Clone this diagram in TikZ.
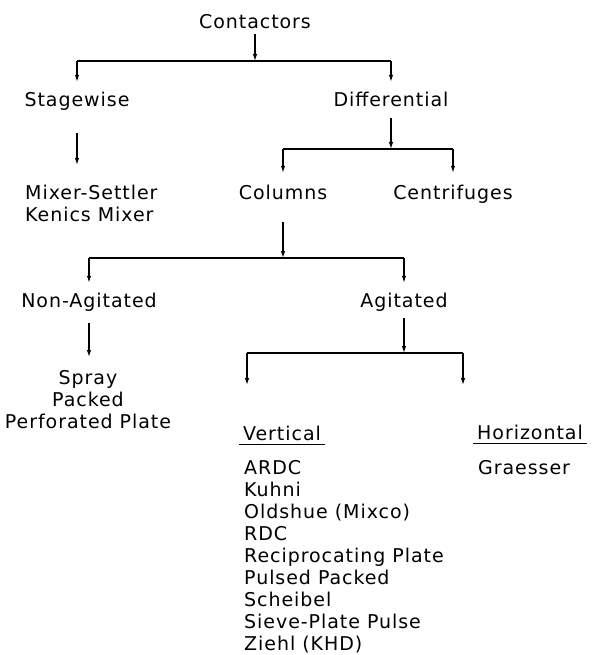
\documentclass[tikz,border=0pt]{standalone}
\usepackage{fontspec}
\usetikzlibrary{arrows.meta}
\newfontfamily\chartfont{DejaVu Sans}[LetterSpace=5.0]
\newcommand{\labelfont}{\chartfont\fontsize{19}{22}\selectfont}
\tikzset{
    every node/.append style={font=\labelfont},
    lbl/.style={anchor=base,inner xsep=0pt,inner ysep=1pt,text height=14pt,text depth=4pt},
    head/.style={lbl,inner xsep=4pt,inner ysep=0pt},
    lst/.style={inner sep=0pt},
    arr/.style={-{Latex[length=7pt,width=4.5pt]},line width=1.2pt},
    bar/.style={line width=1.2pt},
    rule/.style={line width=1pt}
}

\begin{document}
\begin{tikzpicture}[x=1pt,y=1pt]
    \useasboundingbox (0,0) rectangle (596,-655);

    % top levels: contactors and the two main groups
    \node[lbl] (cont)  at (255,-29)  {Contactors};
    \node[lbl] (stage) at (77,-107)  {Stagewise};
    \node[lbl] (diff)  at (391,-107) {Differential};
    \node[lst,anchor=north west,align=left] (mixer) at (25,-185) {Mixer-Settler\\Kenics Mixer};
    \node[lbl] (cols)  at (283,-199) {Columns};
    \node[lbl] (centr) at (453,-199) {Centrifuges};

    % columns split
    \node[lbl] (nonag) at (89,-307)  {Non-Agitated};
    \node[lbl] (agit)  at (404,-307) {Agitated};
    \node[lst,anchor=north,align=center] (nonlist) at (88,-370) {Spray\\Packed\\Perforated Plate};

    % agitated columns
    \node[head] (vert)  at (282,-440) {Vertical};
    \node[head] (horiz) at (530,-439) {Horizontal};
    \node[lst,anchor=north west,align=left] (vlist) at (244,-460)
        {ARDC\\Kuhni\\Oldshue (Mixco)\\RDC\\Reciprocating Plate\\Pulsed Packed\\Scheibel\\Sieve-Plate Pulse\\Ziehl (KHD)};
    \node[lbl,anchor=base west] (graes) at (478,-474) {Graesser};

    % branch bars
    \coordinate (b1) at (255,-61);
    \coordinate (b2) at (391,-149);
    \coordinate (b3) at (283,-258);
    \coordinate (b4) at (404,-353);
    \coordinate (vdrop) at (247,-385);
    \coordinate (hdrop) at (463,-385);

    \draw[arr] (cont.south) -- (cont.south |- b1);
    \draw[bar] (b1 -| stage) -- (b1 -| diff);
    \draw[arr,shorten >=10pt] (b1 -| stage) -- (stage.north);
    \draw[arr,shorten >=10pt] (b1 -| diff) -- (diff.north);
    \draw[arr,shorten <=21pt,shorten >=20pt] (stage.south) -- (stage.south |- mixer.north);

    \draw[arr,shorten <=6pt] (diff.south) -- (diff.south |- b2);
    \draw[bar] (b2 -| cols) -- (b2 -| centr);
    \draw[arr,shorten >=11pt] (b2 -| cols) -- (cols.north);
    \draw[arr,shorten >=11pt] (b2 -| centr) -- (centr.north);

    \draw[arr,shorten <=18pt] (cols.south) -- (cols.south |- b3);
    \draw[bar] (b3 -| nonag) -- (b3 -| agit);
    \draw[arr,shorten >=9pt] (b3 -| nonag) -- (nonag.north);
    \draw[arr,shorten >=9pt] (b3 -| agit) -- (agit.north);
    \draw[arr,shorten <=11pt,shorten >=13pt] (nonag.south) -- (nonag.south |- nonlist.north);

    \draw[arr,shorten <=6pt] (agit.south) -- (agit.south |- b4);
    \draw[bar] (b4 -| vdrop) -- (b4 -| hdrop);
    \draw[arr] (b4 -| vdrop) -- (vdrop);
    \draw[arr] (b4 -| hdrop) -- (hdrop);

    \draw[rule] (vert.south west) -- (vert.south east);
    \draw[rule] (horiz.south west) -- (horiz.south east);
\end{tikzpicture}
\end{document}
